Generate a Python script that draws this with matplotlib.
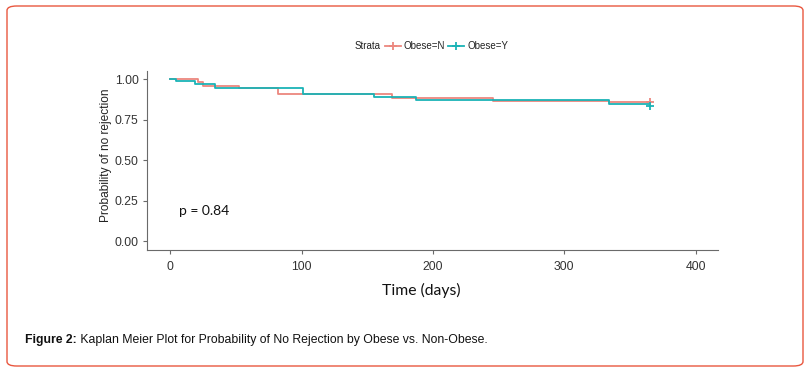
import matplotlib
matplotlib.use("Agg")
import matplotlib.pyplot as plt
from matplotlib.patches import FancyBboxPatch
from matplotlib.lines import Line2D

# ---- data ----
red_days = [0, 21, 25, 52, 82, 169, 246, 334, 365]
red_surv = [1.0, 0.982, 0.958, 0.942, 0.905, 0.885, 0.864, 0.859, 0.859]
teal_days = [0, 4, 19, 34, 101, 155, 187, 334, 365]
teal_surv = [1.0, 0.987, 0.968, 0.942, 0.908, 0.890, 0.869, 0.845, 0.845]
strata_labels = ["Obese=N", "Obese=Y"]
x_ticks = [0, 100, 200, 300, 400]
y_ticks = [0.00, 0.25, 0.50, 0.75, 1.00]
y_ticklabels = ["0.00", "0.25", "0.50", "0.75", "1.00"]
p_text = "p = 0.84"
caption_bold = "Figure 2:"
caption_rest = " Kaplan Meier Plot for Probability of No Rejection by Obese vs. Non-Obese."

RED = "#EC877E"
TEAL = "#1AB3B6"
W, H = 811, 372

fig = plt.figure(figsize=(W / 100, H / 100), dpi=100)
fig.patch.set_facecolor("white")

# rounded border
border = FancyBboxPatch((7 / W, 6 / H), (803 - 7) / W, (366 - 6) / H,
                        boxstyle="round,pad=0,rounding_size=0.012",
                        transform=fig.transFigure, fill=False,
                        edgecolor="#E9573F", linewidth=1.0)
fig.patches.append(border)

ax = fig.add_axes([147 / W, (H - 249.5) / H, (718 - 147) / W, (249.5 - 71) / H])
ax.set_xlim(-17.7, 417)
ax.set_ylim(-0.052, 1.05)

ax.step(red_days, red_surv, where="post", color=RED, lw=1.3)
ax.step(teal_days, teal_surv, where="post", color=TEAL, lw=1.3)
ax.plot([red_days[-1]], [red_surv[-1]], marker="+", color=RED, ms=6, mew=1.3)
ax.plot([teal_days[-1]], [teal_surv[-1] - 0.008], marker="+", color=TEAL, ms=6, mew=1.3)

for s in ["top", "right"]:
    ax.spines[s].set_visible(False)
for s in ["left", "bottom"]:
    ax.spines[s].set_color("#6a6a6a")
    ax.spines[s].set_linewidth(0.8)

ax.set_xticks(x_ticks)
ax.set_yticks(y_ticks)
ax.set_yticklabels(y_ticklabels)
ax.tick_params(axis="both", length=3, width=0.8, color="#6a6a6a",
               labelsize=8.8, labelcolor="#333333", pad=3)
ax.tick_params(axis="x", pad=5)
for lab in ax.get_xticklabels() + ax.get_yticklabels():
    lab.set_family("Liberation Sans")

ax.set_ylabel("Probability of no rejection", fontsize=8.6, family="Liberation Sans",
              color="#222222")
ax.yaxis.set_label_coords(-0.062, 0.53)
ax.set_xlabel("Time (days)", fontsize=11.3, family="Lato", color="#111111")
ax.xaxis.set_label_coords(0.48, -0.19)

ax.text(7, 0.185, p_text, fontsize=10, family="Lato", color="#111111", va="center")

# legend (manual, ggplot-like top legend)
fig.text(355 / W, (H - 46) / H, "Strata", fontsize=7, family="Liberation Sans",
         color="#222222", va="center", ha="left")
key_specs = [(385, 404, RED, strata_labels[0]), (448, 468, TEAL, strata_labels[1])]
for x0, xt, col, lab in key_specs:
    yk = (H - 46) / H
    fig.add_artist(Line2D([x0 / W, (x0 + 16) / W], [yk, yk], transform=fig.transFigure,
                          color=col, lw=1.3))
    fig.add_artist(Line2D([(x0 + 8) / W], [yk], transform=fig.transFigure,
                          color=col, marker="+", ms=6, mew=1.3))
    fig.text(xt / W, yk, lab, fontsize=7, family="Liberation Sans",
             color="#222222", va="center", ha="left")

# caption
t1 = fig.text(25 / W, (H - 340) / H, caption_bold, fontsize=8.8, fontweight="bold",
              family="Liberation Sans", color="#111111", va="center", ha="left")
fig.canvas.draw()
bb = t1.get_window_extent(renderer=fig.canvas.get_renderer())
fig.text(bb.x1 / W, (H - 340) / H, caption_rest, fontsize=8.8,
         family="Liberation Sans", color="#111111", va="center", ha="left")

fig.savefig("out.png", dpi=100, facecolor="white")
